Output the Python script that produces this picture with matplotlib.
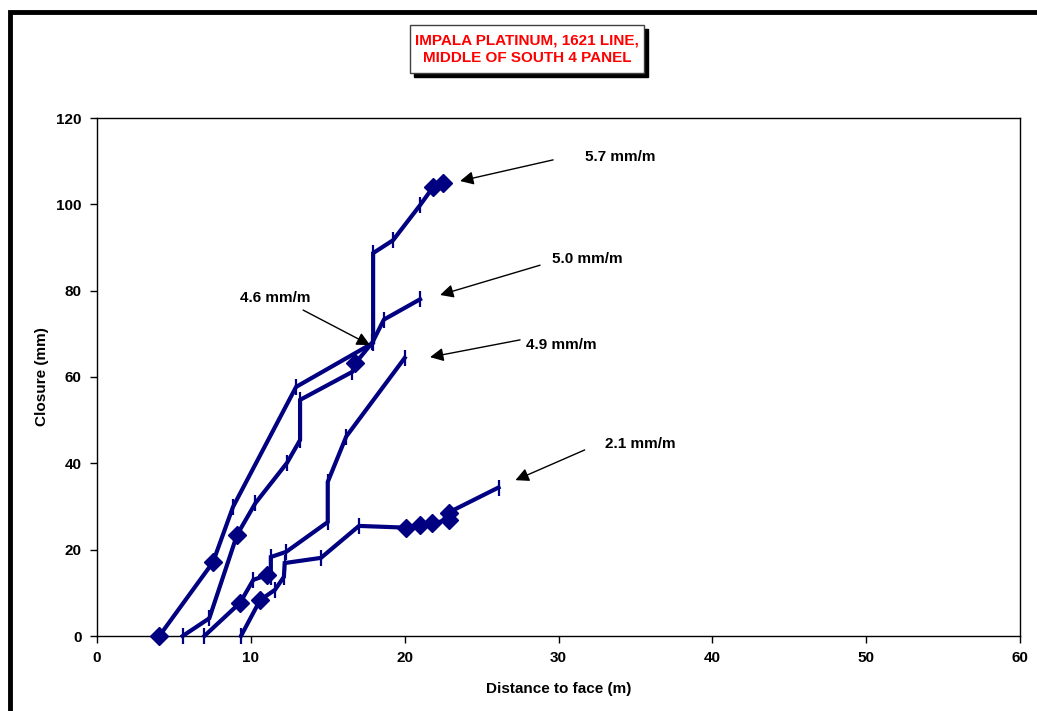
import matplotlib
matplotlib.use("Agg")
import matplotlib.pyplot as plt
from matplotlib.patches import Rectangle

# Kurven: Abstand zur Ortsbrust (m) und Konvergenz (mm)
c1_x = [4.05, 7.54, 8.84, 12.94, 17.95, 17.95, 19.25, 21.0, 21.85, 22.5]
c1_y = [0.0, 17.1, 29.9, 57.7, 67.9, 88.7, 91.7, 99.8, 104.0, 104.9]

c2_x = [5.57, 7.3, 9.1, 10.3, 12.35, 13.2, 13.2, 16.6, 16.8, 17.9, 18.65, 21.0]
c2_y = [0.0, 4.1, 23.4, 30.8, 40.1, 45.4, 54.7, 61.2, 63.2, 68.0, 73.3, 78.0]

c3_x = [6.98, 9.3, 10.16, 11.03, 11.3, 11.3, 12.3, 15.0, 15.0, 16.2, 20.0]
c3_y = [0.0, 7.7, 13.0, 14.1, 13.7, 18.3, 19.5, 26.4, 35.7, 46.2, 64.4]

c4_x = [9.36, 10.6, 11.57, 12.15, 12.2, 14.56, 17.03, 20.1, 21.0, 21.8, 22.85, 22.85, 26.1]
c4_y = [0.0, 8.3, 10.7, 13.7, 16.9, 18.1, 25.5, 25.1, 25.6, 26.1, 26.9, 28.6, 34.4]

# welche Punkte als Raute gezeichnet werden
c1_diamonds = [0, 1, 8, 9]
c2_diamonds = [2, 8]
c3_diamonds = [1, 3]
c4_diamonds = [1, 7, 8, 9, 10, 11]

rate_labels = ["5.7 mm/m", "5.0 mm/m", "4.9 mm/m", "2.1 mm/m", "4.6 mm/m"]
label_pos = [(34.0, 111.0), (31.9, 87.3), (30.2, 67.4), (35.3, 44.5), (11.6, 78.3)]
arrow_tail = [(29.65, 110.3), (28.8, 85.9), (27.5, 68.6), (31.7, 43.1), (13.4, 75.5)]
arrow_head = [(23.6, 105.4), (22.3, 79.0), (21.65, 64.6), (27.2, 36.1), (17.75, 67.4)]

x_ticks = [0, 10, 20, 30, 40, 50, 60]
y_ticks = [0, 20, 40, 60, 80, 100, 120]

navy = "#000080"
fs = 11

fig = plt.figure(figsize=(10.37, 7.11), dpi=100)
ax = fig.add_axes([97 / 1037, 1 - 636 / 711, 923 / 1037, 518 / 711])

curves = [(c1_x, c1_y, c1_diamonds), (c2_x, c2_y, c2_diamonds),
          (c3_x, c3_y, c3_diamonds), (c4_x, c4_y, c4_diamonds)]
for xs, ys, dia in curves:
    ticks = [i for i in range(len(xs)) if i not in dia]
    ax.plot(xs, ys, color=navy, lw=3, solid_joinstyle="miter", zorder=3,
            clip_on=False)
    ax.plot(xs, ys, ls="none", marker="|", markevery=ticks, ms=11, mew=1.6,
            color=navy, zorder=4, clip_on=False)
    ax.plot(xs, ys, ls="none", marker="D", markevery=dia, ms=9,
            color=navy, zorder=4, clip_on=False)

for txt, pos, tail, head in zip(rate_labels, label_pos, arrow_tail, arrow_head):
    ax.text(pos[0], pos[1], txt, ha="center", va="center", fontsize=fs,
            fontweight="bold", family="Liberation Sans")
    ax.annotate("", xy=head, xytext=tail,
                arrowprops=dict(arrowstyle="-|>", mutation_scale=20, lw=1,
                                color="black", shrinkA=0, shrinkB=0))

ax.set_xlim(0, 60)
ax.set_ylim(0, 120)
ax.set_xticks(x_ticks)
ax.set_yticks(y_ticks)
ax.tick_params(direction="out", length=5, width=1, labelsize=fs, pad=6)
for lab in ax.get_xticklabels() + ax.get_yticklabels():
    lab.set_fontweight("bold")
    lab.set_family("Liberation Sans")
for sp in ax.spines.values():
    sp.set_linewidth(1)
ax.set_xlabel("Distance to face (m)", fontsize=fs, fontweight="bold",
              family="Liberation Sans", labelpad=12)
ax.set_ylabel("Closure (mm)", fontsize=fs, fontweight="bold",
              family="Liberation Sans", labelpad=5)

# Rahmen der Diagrammfläche
fig.patches.append(Rectangle((10 / 1037, -0.1), 1.2, 1 - 12 / 711 + 0.1,
                             transform=fig.transFigure, fill=False,
                             lw=3.5, ec="black"))

# Titelbox mit Schatten
bx, by, bw, bh = 410 / 1037, 1 - 73 / 711, 234 / 1037, 48 / 711
fig.patches.append(Rectangle((bx + 4 / 1037, by - 4 / 711), bw, bh,
                             transform=fig.transFigure, fc="black", ec="black"))
fig.patches.append(Rectangle((bx, by), bw, bh, transform=fig.transFigure,
                             fc="white", ec="#404040", lw=1))
fig.text(bx + bw / 2, by + bh / 2, "IMPALA PLATINUM, 1621 LINE,\nMIDDLE OF SOUTH 4 PANEL",
         ha="center", va="center", color="red", fontsize=fs, fontweight="bold",
         family="Liberation Sans", linespacing=1.35)

fig.savefig("out.png", dpi=100)
